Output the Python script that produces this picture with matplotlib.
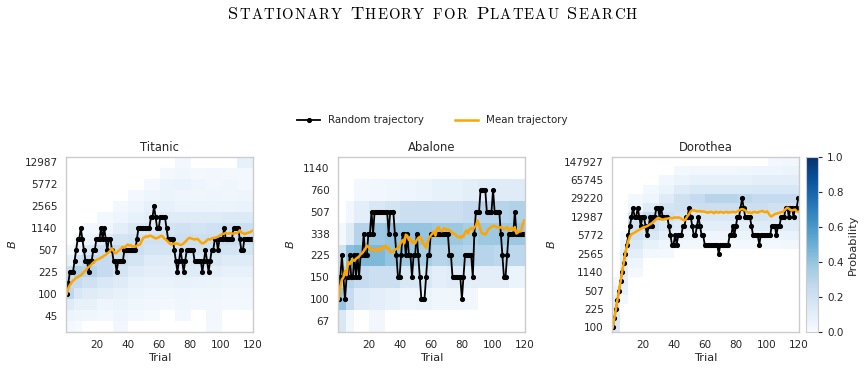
import matplotlib
matplotlib.use("Agg")
import matplotlib.pyplot as plt
import numpy as np
from matplotlib.offsetbox import TextArea, HPacker, AnchoredOffsetbox

# ---- data -------------------------------------------------------------
trials = np.arange(1, 121)
# heatmap column edges (trial blocks)
block_edges = [0.5, 5.5, 10.5, 20.5, 30.5, 40.5, 50.5, 60.5, 70.5, 80.5, 90.5, 100.5, 110.5, 120.5]

# Titanic: levels -3..12 (B = 100 * 1.5**level)
titanic_levels = list(range(-3, 13))
titanic_ticks = [-2, 0, 2, 4, 6, 8, 10, 12]
titanic_ticklabels = ["45", "100", "225", "507", "1140", "2565", "5772", "12987"]
titanic_prob = [
    [0.02, 0.01, 0, 0, 0.03, 0, 0, 0, 0, 0, 0.02, 0, 0],
    [0.06, 0.05, 0.04, 0.02, 0.05, 0.02, 0.01, 0, 0.02, 0, 0.03, 0, 0],
    [0.12, 0.08, 0.08, 0.05, 0.06, 0.04, 0.03, 0.02, 0.04, 0.03, 0.03, 0.02, 0.02],
    [0.28, 0.16, 0.12, 0.10, 0.08, 0.06, 0.05, 0.04, 0.05, 0.04, 0.04, 0.03, 0.03],
    [0.25, 0.25, 0.20, 0.15, 0.12, 0.08, 0.07, 0.07, 0.08, 0.07, 0.06, 0.05, 0.05],
    [0.22, 0.32, 0.30, 0.25, 0.18, 0.12, 0.10, 0.10, 0.12, 0.12, 0.10, 0.08, 0.08],
    [0.08, 0.20, 0.25, 0.25, 0.22, 0.18, 0.12, 0.12, 0.15, 0.15, 0.15, 0.12, 0.12],
    [0.02, 0.08, 0.15, 0.22, 0.25, 0.22, 0.18, 0.18, 0.20, 0.20, 0.20, 0.18, 0.18],
    [0, 0.03, 0.06, 0.12, 0.18, 0.20, 0.20, 0.20, 0.22, 0.22, 0.22, 0.22, 0.22],
    [0, 0, 0.02, 0.05, 0.10, 0.15, 0.15, 0.18, 0.20, 0.18, 0.20, 0.22, 0.22],
    [0, 0, 0, 0.02, 0.05, 0.08, 0.10, 0.12, 0.12, 0.12, 0.12, 0.14, 0.14],
    [0, 0, 0, 0, 0.02, 0.05, 0.08, 0.08, 0.06, 0.06, 0.06, 0.06, 0.07],
    [0, 0, 0, 0, 0, 0.02, 0.05, 0.06, 0.05, 0.04, 0.05, 0.04, 0.05],
    [0, 0, 0, 0, 0, 0, 0.02, 0.06, 0.07, 0.05, 0.03, 0.04, 0.02],
    [0, 0, 0, 0, 0, 0, 0, 0.02, 0.04, 0.02, 0.03, 0.02, 0.02],
    [0, 0, 0, 0, 0, 0, 0, 0, 0.02, 0, 0, 0, 0.08],
]
titanic_random = [
    0, 1, 2, 2, 2, 3, 4, 5, 5, 6, 5, 4, 3, 3, 2, 3, 3, 4, 4, 5,
    5, 5, 6, 5, 6, 5, 4, 5, 5, 4, 3, 3, 2, 3, 3, 3, 3, 4, 4, 4,
    4, 4, 4, 4, 4, 5, 6, 6, 6, 6, 6, 6, 6, 6, 7, 7, 8, 7, 6, 6,
    7, 7, 7, 7, 6, 5, 5, 5, 5, 4, 3, 2, 3, 4, 3, 2, 3, 4, 4, 4,
    4, 4, 3, 3, 3, 3, 3, 2, 3, 4, 3, 2, 3, 4, 4, 5, 5, 4, 5, 5,
    5, 6, 5, 5, 5, 5, 5, 6, 6, 6, 6, 5, 4, 4, 5, 5, 5, 5, 5, 5,
]
titanic_mean = [
    0.0, 0.5, 0.8, 1.0, 1.2, 1.3, 1.45, 1.5, 1.6, 1.7,
    1.8, 2.0, 2.1, 2.3, 2.45, 2.55, 2.7, 2.85, 2.95, 3.1,
    3.15, 3.2, 3.3, 3.35, 3.5, 3.55, 3.7, 3.8, 3.95, 4.15,
    3.9, 3.7, 3.75, 3.9, 4.0, 4.15, 4.3, 4.2, 4.35, 4.5,
    4.4, 4.45, 4.3, 4.35, 4.3, 4.4, 4.45, 4.5, 4.8, 5.1,
    5.15, 5.25, 5.2, 5.3, 5.3, 5.2, 5.15, 5.05, 5.1, 5.15,
    5.25, 5.3, 5.15, 5.0, 4.9, 4.75, 4.6, 4.5, 4.55, 4.6,
    4.55, 4.6, 4.5, 4.45, 4.5, 4.6, 4.75, 4.9, 5.05, 5.1,
    5.05, 5.0, 4.95, 5.0, 5.0, 4.85, 4.7, 4.6, 4.65, 4.75,
    4.9, 5.0, 4.95, 5.05, 5.1, 5.1, 5.15, 5.2, 5.3, 5.4,
    5.45, 5.5, 5.55, 5.5, 5.5, 5.55, 5.5, 5.5, 5.55, 5.55,
    5.6, 5.8, 5.6, 5.55, 5.45, 5.5, 5.55, 5.6, 5.65, 5.75,
]

# Abalone: levels -1..6
abalone_levels = list(range(-1, 7))
abalone_ticks = [-1, 0, 1, 2, 3, 4, 5, 6]
abalone_ticklabels = ["67", "100", "150", "225", "338", "507", "760", "1140"]
abalone_prob = [
    [0.15, 0.03, 0, 0.03, 0, 0, 0, 0, 0, 0, 0, 0, 0],
    [0.40, 0.25, 0.12, 0.10, 0.08, 0.05, 0.06, 0.04, 0.04, 0.03, 0, 0, 0],
    [0.30, 0.30, 0.25, 0.22, 0.22, 0.15, 0.15, 0.10, 0.12, 0.10, 0.10, 0.10, 0.06],
    [0.20, 0.42, 0.45, 0.45, 0.40, 0.38, 0.35, 0.30, 0.32, 0.30, 0.30, 0.28, 0.28],
    [0.02, 0.12, 0.30, 0.38, 0.40, 0.40, 0.40, 0.38, 0.38, 0.35, 0.38, 0.38, 0.38],
    [0, 0.03, 0.10, 0.15, 0.18, 0.22, 0.22, 0.22, 0.22, 0.25, 0.30, 0.30, 0.32],
    [0, 0, 0.02, 0.03, 0.04, 0.05, 0.06, 0.08, 0.08, 0.10, 0.12, 0.12, 0.12],
    [0, 0, 0, 0, 0, 0, 0, 0, 0, 0, 0, 0, 0],
]
abalone_random = [
    0, 1, 2, 1, 0, 1, 1, 2, 1, 1, 2, 1, 2, 1, 2, 2, 3, 2, 2, 3,
    3, 4, 3, 4, 4, 4, 4, 4, 4, 4, 4, 4, 3, 4, 4, 4, 3, 2, 1, 1,
    2, 3, 3, 2, 3, 2, 2, 1, 2, 2, 3, 2, 1, 0, 0, 0, 1, 2, 2, 3,
    3, 3, 3, 3, 3, 3, 3, 3, 3, 3, 3, 2, 2, 1, 1, 1, 1, 1, 1, 0,
    1, 2, 2, 2, 2, 2, 1, 3, 4, 4, 4, 5, 5, 5, 5, 4, 4, 4, 4, 5,
    4, 4, 4, 4, 3, 2, 1, 1, 2, 3, 3, 3, 3, 4, 3, 3, 3, 3, 3, 3,
]
abalone_mean = [
    0.0, 0.6, 0.9, 1.0, 1.3, 1.1, 1.7, 1.6, 1.75, 1.8,
    1.75, 1.85, 1.9, 1.95, 2.05, 2.1, 2.2, 2.3, 2.45, 2.4,
    2.3, 2.25, 2.3, 2.2, 2.25, 2.3, 2.2, 2.35, 2.3, 2.4,
    2.45, 2.3, 2.35, 2.15, 2.15, 2.2, 2.25, 2.3, 2.35, 2.45,
    2.6, 2.7, 2.55, 2.95, 2.9, 2.7, 2.75, 2.6, 2.65, 2.55,
    2.7, 2.8, 2.85, 2.75, 2.6, 2.45, 2.35, 2.6, 2.8, 2.9,
    3.0, 3.1, 2.9, 3.2, 3.3, 3.15, 3.1, 3.2, 3.25, 3.15,
    3.2, 3.15, 3.1, 3.0, 3.0, 2.95, 2.85, 2.85, 2.8, 2.9,
    2.85, 3.05, 3.15, 3.0, 3.2, 3.25, 3.15, 3.3, 3.35, 3.6,
    3.4, 3.15, 3.0, 3.0, 2.95, 3.05, 3.2, 3.25, 3.3, 3.35,
    3.35, 3.3, 3.3, 3.25, 3.3, 3.25, 3.2, 3.25, 3.3, 3.15,
    3.2, 3.25, 3.15, 3.3, 3.0, 3.05, 3.1, 3.1, 3.4, 3.6,
]

# Dorothea: levels 0..18
dorothea_levels = list(range(0, 19))
dorothea_ticks = [0, 2, 4, 6, 8, 10, 12, 14, 16, 18]
dorothea_ticklabels = ["100", "225", "507", "1140", "2565", "5772", "12987",
                       "29220", "65745", "147927"]
dorothea_prob = [
    [0.15, 0, 0, 0, 0, 0, 0, 0, 0, 0, 0, 0, 0],
    [0.15, 0, 0, 0, 0, 0, 0, 0, 0, 0, 0, 0, 0],
    [0.12, 0, 0, 0, 0, 0, 0, 0, 0, 0, 0, 0, 0],
    [0.10, 0.02, 0, 0, 0, 0, 0, 0, 0, 0, 0, 0, 0],
    [0.05, 0.08, 0, 0, 0, 0, 0, 0, 0, 0, 0, 0, 0],
    [0.02, 0.10, 0, 0, 0, 0, 0, 0, 0, 0, 0, 0, 0],
    [0, 0.12, 0.02, 0, 0, 0, 0, 0, 0, 0, 0, 0, 0],
    [0, 0.12, 0.05, 0, 0, 0, 0, 0, 0, 0, 0, 0, 0],
    [0, 0.10, 0.10, 0.03, 0.02, 0, 0, 0, 0, 0, 0, 0, 0],
    [0, 0.06, 0.15, 0.08, 0.05, 0.03, 0.03, 0.02, 0.02, 0.02, 0.02, 0.02, 0.03],
    [0, 0.02, 0.20, 0.15, 0.10, 0.08, 0.06, 0.05, 0.05, 0.06, 0.06, 0.06, 0.07],
    [0, 0, 0.20, 0.22, 0.15, 0.12, 0.10, 0.10, 0.10, 0.10, 0.12, 0.12, 0.12],
    [0, 0, 0.15, 0.25, 0.22, 0.18, 0.15, 0.15, 0.15, 0.15, 0.18, 0.16, 0.16],
    [0, 0, 0.05, 0.12, 0.18, 0.20, 0.22, 0.22, 0.22, 0.22, 0.22, 0.20, 0.20],
    [0, 0, 0.02, 0.05, 0.12, 0.20, 0.25, 0.30, 0.30, 0.28, 0.25, 0.25, 0.25],
    [0, 0, 0, 0.02, 0.06, 0.12, 0.15, 0.15, 0.15, 0.15, 0.16, 0.16, 0.16],
    [0, 0, 0, 0, 0.03, 0.06, 0.08, 0.08, 0.08, 0.08, 0.10, 0.10, 0.10],
    [0, 0, 0, 0, 0, 0.02, 0.03, 0.03, 0.03, 0.04, 0.05, 0.05, 0.06],
    [0, 0, 0, 0, 0, 0, 0, 0, 0, 0, 0, 0.02, 0.03],
]
dorothea_random = [
    0, 1, 2, 3, 4, 5, 6, 7, 8, 9, 10, 11, 12, 13, 12, 12, 13, 12, 11, 12,
    12, 11, 10, 11, 12, 11, 12, 12, 13, 13, 12, 13, 12, 12, 12, 12, 11, 10, 9, 9,
    10, 9, 10, 10, 10, 11, 11, 12, 12, 13, 12, 11, 10, 10, 11, 12, 11, 10, 10, 9,
    9, 9, 9, 9, 9, 9, 9, 9, 8, 9, 9, 9, 9, 9, 9, 10, 10, 11, 10, 11,
    12, 12, 13, 14, 13, 12, 12, 12, 12, 11, 10, 10, 10, 10, 9, 10, 10, 10, 10, 10,
    10, 10, 11, 11, 11, 10, 11, 11, 12, 12, 12, 13, 13, 12, 13, 13, 12, 13, 13, 14,
]
dorothea_mean = [
    0.0, 1.0, 2.0, 3.0, 4.0, 5.0, 6.0, 7.0, 8.0, 8.8,
    9.4, 9.9, 10.1, 10.2, 10.3, 10.4, 10.5, 10.6, 10.7, 10.8,
    10.9, 10.9, 11.0, 11.1, 11.2, 11.3, 11.45, 11.6, 11.75, 11.9,
    11.85, 11.75, 11.7, 11.75, 11.8, 11.8, 11.85, 11.9, 11.85, 11.9,
    11.95, 11.9, 11.95, 11.9, 11.8, 11.7, 11.6, 11.8, 12.1, 12.3,
    12.6, 12.75, 12.7, 12.65, 12.6, 12.6, 12.65, 12.55, 12.6, 12.55,
    12.5, 12.45, 12.5, 12.55, 12.5, 12.4, 12.55, 12.5, 12.45, 12.55,
    12.5, 12.45, 12.5, 12.55, 12.45, 12.5, 12.5, 12.55, 12.5, 12.5,
    12.6, 12.7, 12.8, 12.85, 12.8, 12.7, 12.55, 12.45, 12.5, 12.4,
    12.5, 12.55, 12.5, 12.45, 12.55, 12.6, 12.65, 12.55, 12.5, 12.6,
    12.4, 12.1, 12.05, 12.2, 12.3, 12.35, 12.4, 12.45, 12.5, 12.5,
    12.7, 12.85, 13.0, 12.9, 12.75, 12.7, 12.75, 12.8, 12.6, 12.55,
]

panels = [
    ("Titanic", titanic_levels, titanic_prob, titanic_random, titanic_mean,
     titanic_ticks, titanic_ticklabels),
    ("Abalone", abalone_levels, abalone_prob, abalone_random, abalone_mean,
     abalone_ticks, abalone_ticklabels),
    ("Dorothea", dorothea_levels, dorothea_prob, dorothea_random, dorothea_mean,
     dorothea_ticks, dorothea_ticklabels),
]

title_words = ["Stationary", "Theory", "for", "Plateau", "Search"]

# ---- figure -----------------------------------------------------------
TXT = "#262626"
plt.rcParams["font.family"] = "DejaVu Sans"
plt.rcParams["text.color"] = TXT
plt.rcParams["axes.labelcolor"] = TXT
plt.rcParams["xtick.color"] = TXT
plt.rcParams["ytick.color"] = TXT

fig = plt.figure(figsize=(8.65, 3.73), dpi=100)
ax_lefts = [66, 338, 612]
ax_w = 187
ax_top, ax_bot = 157, 332
W, H = 865, 373

mesh = None
for (name, levels, prob, rnd, mean, yt, ytl), left in zip(panels, ax_lefts):
    ax = fig.add_axes([left / W, 1 - ax_bot / H, ax_w / W, (ax_bot - ax_top) / H])
    y_edges = np.arange(levels[0] - 0.5, levels[-1] + 1.0, 1.0)
    data = np.ma.masked_less_equal(np.array(prob), 0)
    mesh = ax.pcolormesh(block_edges, y_edges, data, cmap="Blues", vmin=0, vmax=1,
                         shading="flat", linewidth=0)
    ax.plot(trials, rnd, "-o", color="black", lw=1.3, ms=2.7,
            label="Random trajectory")
    ax.plot(trials, mean, "-", color="orange", lw=1.8, label="Mean trajectory")
    ax.set_xlim(0.5, 120.5)
    ax.set_ylim(levels[0] - 0.5, levels[-1] + 0.5)
    ax.set_xticks([20, 40, 60, 80, 100, 120])
    ax.set_yticks(yt)
    ax.set_yticklabels(ytl)
    ax.tick_params(length=0, labelsize=7.5, pad=6)
    ax.set_xlabel("Trial", fontsize=8.2, labelpad=2)
    ax.set_ylabel("$B$", fontsize=8.2, labelpad=5)
    ax.set_title(name, fontsize=8.4, pad=4)
    for s in ax.spines.values():
        s.set_color("#cccccc")
        s.set_linewidth(1.0)

cax = fig.add_axes([806 / W, 1 - ax_bot / H, 12 / W, (ax_bot - ax_top) / H])
cb = fig.colorbar(mesh, cax=cax)
cb.set_ticks([0.0, 0.2, 0.4, 0.6, 0.8, 1.0])
cb.ax.tick_params(labelsize=7.5, length=3, width=0.8, color=TXT)
cb.set_label("Probability", fontsize=8.2, labelpad=3)
cb.outline.set_edgecolor("#cccccc")

handles, labels = ax.get_legend_handles_labels()
fig.legend(handles, labels, loc="center", bbox_to_anchor=(0.5, 0.678), ncol=2,
           frameon=False, fontsize=7.4, handlelength=2.2, columnspacing=3.0)

# small-caps title, built letter by letter
big, small = 13.2, 10.6
word_boxes = []
for w in title_words:
    chars = []
    for c in w:
        sz = big if c.isupper() else small
        chars.append(TextArea(c.upper(), textprops=dict(fontsize=sz, family="cmr10",
                                                        color="black")))
    word_boxes.append(HPacker(children=chars, align="baseline", pad=0, sep=0.8))
title_box = HPacker(children=word_boxes, align="baseline", pad=0, sep=6.5)
fig.add_artist(AnchoredOffsetbox(loc="center", child=title_box, frameon=False, pad=0,
                                 borderpad=0, bbox_to_anchor=(0.5, 0.962),
                                 bbox_transform=fig.transFigure))

fig.savefig("out.png", dpi=100)
